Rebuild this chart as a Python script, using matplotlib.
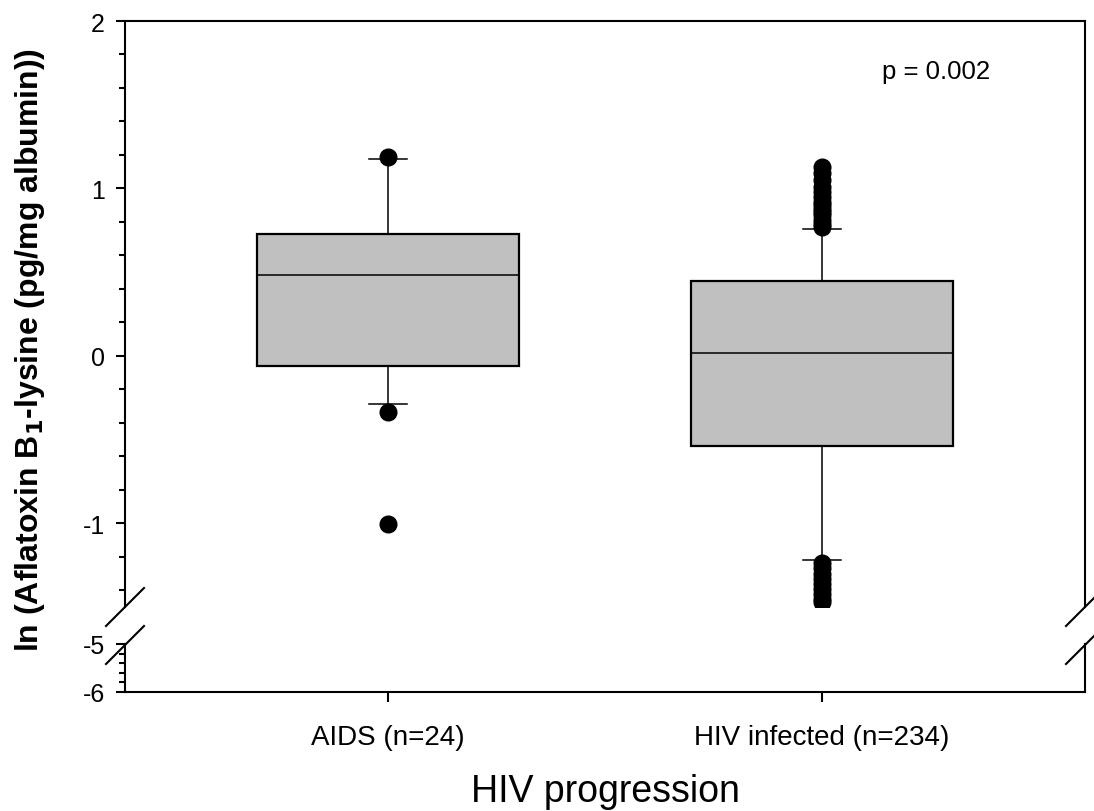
import numpy as np
import matplotlib
matplotlib.use("Agg")
import matplotlib.pyplot as plt
from matplotlib.ticker import MultipleLocator

plt.rcParams['font.family'] = ['Liberation Sans', 'DejaVu Sans']
plt.rcParams['axes.unicode_minus'] = False

# ---- data (ln aflatoxin B1-lysine, pg/mg albumin) ----
groups = ['AIDS (n=24)', 'HIV infected (n=234)']
q1 = [-0.06, -0.54]
med = [0.485, 0.016]
q3 = [0.725, 0.447]
whis_lo = [-0.29, -1.22]
whis_hi = [1.175, 0.755]
fliers_aids = [1.19, -0.335, -1.005]
fliers_hiv = [0.77, 0.79, 0.81, 0.84, 0.86, 0.88, 0.90, 0.92, 0.95, 0.98,
              1.01, 1.05, 1.09, 1.13,
              -1.24, -1.27, -1.30, -1.33, -1.36, -1.39, -1.42, -1.45, -1.47]
p_text = 'p = 0.002'

stats = []
for i, name in enumerate(groups):
    stats.append(dict(label=name, q1=q1[i], med=med[i], q3=q3[i],
                      whislo=whis_lo[i], whishi=whis_hi[i],
                      fliers=[fliers_aids, fliers_hiv][i]))

W, H = 1094, 812
fig = plt.figure(figsize=(W / 100, H / 100), dpi=100)
left, right = 125 / W, 1085 / W
ax = fig.add_axes([left, (H - 608) / H, right - left, (608 - 22) / H])
axb = fig.add_axes([left, (H - 693) / H, right - left, (693 - 645) / H])

ax.bxp(stats, positions=[1, 2], widths=0.604, capwidths=0.088,
       patch_artist=True, showfliers=True,
       boxprops=dict(facecolor='#c0c0c0', edgecolor='black', linewidth=1.6),
       medianprops=dict(color='black', linewidth=1.1),
       whiskerprops=dict(color='black', linewidth=1.1),
       capprops=dict(color='black', linewidth=1.1),
       flierprops=dict(marker='o', markerfacecolor='black',
                       markeredgecolor='black', markersize=12))

for a in (ax, axb):
    a.set_xlim(0.394, 2.606)
    for s in a.spines.values():
        s.set_linewidth(1.5)
    a.tick_params(axis='y', which='major', direction='out', length=6.5,
                  width=1.5, labelsize=18, pad=8)
    a.tick_params(axis='y', which='minor', direction='out', length=4.2,
                  width=1.5)
    a.yaxis.set_minor_locator(MultipleLocator(0.2))

ax.set_ylim(-1.5, 2)
ax.set_yticks([-1, 0, 1, 2])
ax.spines['bottom'].set_visible(False)
ax.tick_params(axis='x', which='both', bottom=False, labelbottom=False)

axb.set_ylim(-6, -5)
axb.set_yticks([-6, -5])
axb.spines['top'].set_visible(False)
axb.set_xticks([1, 2])
axb.set_xticklabels(groups)
axb.tick_params(axis='x', direction='out', length=7, width=1.5,
                labelsize=20, pad=16)

# break marks on both sides of the axis gap
for xf in (left, right):
    for yp in (608, 646):
        yf = (H - yp) / H
        fig.add_artist(plt.Line2D([xf - 19 / W, xf + 19 / W],
                                  [yf - 19 / H, yf + 19 / H],
                                  color='black', linewidth=1.5))

ax.text(0.845, 0.915, p_text, transform=ax.transAxes, fontsize=18.5,
        ha='center', va='center')

fig.text(30 / W, (H - 350) / H,
         r'ln (Aflatoxin B$_\mathbf{1}$-lysine (pg/mg albumin))',
         rotation=90, fontsize=23, fontweight='bold', ha='center', va='center')
fig.text(605 / W, (H - 792) / H, 'HIV progression', fontsize=27,
         ha='center', va='center')

fig.savefig('out.png', dpi=100)
